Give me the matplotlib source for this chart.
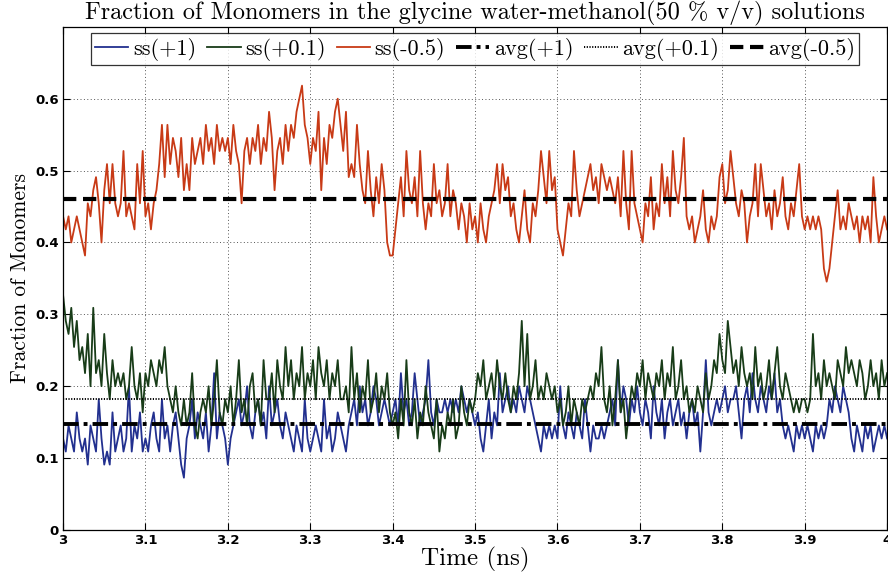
import numpy as np
import matplotlib
matplotlib.use("Agg")
import matplotlib.pyplot as plt

# monomer counts out of 55 molecules (one row = 0.1 ns)
n_molecules = 55

counts_p1 = [
    7, 6, 8, 7, 6, 9, 7, 6, 7, 5, 8, 7, 6, 10, 7, 5, 6, 5, 9, 6, 7, 8, 6, 7, 11, 6, 8, 7, 9, 6,
    7, 6, 8, 9, 7, 6, 10, 7, 8, 6, 8, 9, 7, 5, 4, 7, 8, 10, 7, 9, 8, 7, 9, 6, 8, 12, 7, 9, 8, 7,
    5, 7, 8, 9, 10, 8, 9, 11, 8, 7, 9, 10, 8, 9, 7, 11, 8, 9, 10, 8, 7, 9, 8, 7, 6, 8, 7, 6, 10, 7,
    6, 7, 8, 7, 6, 10, 7, 8, 6, 7, 9, 8, 7, 6, 8, 9, 10, 8, 11, 9, 10, 8, 9, 11, 10, 8, 9, 10, 9, 8,
    9, 10, 8, 12, 9, 10, 8, 9, 12, 10, 8, 9, 10, 13, 9, 8, 10, 9, 9, 10, 9, 10, 9, 10, 9, 11, 10, 9, 10, 9,
    8, 9, 7, 6, 8, 10, 7, 9, 8, 12, 9, 10, 11, 9, 10, 9, 11, 10, 9, 11, 10, 9, 8, 7, 6, 8, 7, 8, 7, 8,
    7, 11, 8, 7, 9, 8, 7, 9, 8, 7, 10, 8, 6, 8, 7, 7, 8, 7, 8, 9, 10, 8, 13, 9, 11, 10, 8, 10, 9, 11,
    9, 8, 10, 9, 7, 11, 9, 8, 10, 7, 9, 10, 8, 9, 10, 8, 9, 7, 9, 10, 8, 9, 6, 9, 13, 9, 8, 9, 10, 9,
    10, 11, 9, 10, 10, 11, 9, 7, 10, 11, 9, 12, 10, 9, 11, 10, 9, 11, 10, 12, 9, 10, 8, 7, 8, 7, 6, 8, 7, 8,
    7, 8, 7, 6, 8, 7, 8, 7, 8, 10, 9, 11, 10, 9, 11, 10, 9, 7, 6, 8, 7, 6, 8, 7, 8, 6, 7, 8, 7, 8,
    7,
]

counts_p01 = [
    18, 16, 15, 17, 14, 16, 13, 14, 12, 15, 11, 17, 12, 13, 11, 15, 12, 10, 13, 11, 12, 11, 12, 10, 11, 14, 11, 10, 12, 9,
    12, 11, 13, 12, 11, 13, 12, 14, 11, 10, 9, 11, 9, 8, 10, 8, 9, 12, 8, 7, 9, 10, 9, 11, 8, 10, 13, 9, 8, 10,
    9, 11, 8, 10, 13, 9, 10, 8, 11, 12, 9, 10, 8, 13, 10, 10, 12, 9, 13, 11, 10, 14, 11, 13, 10, 12, 11, 14, 10, 12,
    11, 13, 10, 14, 12, 11, 13, 10, 12, 11, 13, 10, 10, 11, 9, 14, 10, 12, 9, 11, 10, 13, 9, 10, 12, 9, 11, 10, 12, 9,
    8, 9, 7, 10, 8, 13, 9, 8, 10, 7, 9, 8, 11, 9, 8, 7, 10, 6, 8, 7, 9, 8, 10, 7, 8, 11, 9, 8, 10, 9,
    10, 12, 11, 13, 10, 11, 12, 10, 13, 11, 10, 12, 10, 9, 11, 10, 12, 16, 11, 15, 10, 11, 13, 10, 11, 10, 12, 11, 10, 11,
    9, 10, 8, 9, 11, 8, 10, 9, 8, 10, 9, 10, 11, 10, 12, 11, 14, 10, 9, 11, 8, 10, 13, 9, 10, 7, 9, 11, 10, 12,
    11, 13, 10, 12, 11, 10, 12, 11, 13, 10, 12, 11, 14, 10, 11, 13, 10, 11, 9, 10, 9, 11, 10, 9, 12, 10, 11, 13, 12, 15,
    13, 12, 16, 14, 12, 13, 11, 14, 12, 11, 12, 10, 14, 11, 12, 10, 11, 13, 10, 12, 14, 11, 10, 12, 11, 10, 9, 10, 9, 10,
    10, 9, 10, 15, 11, 12, 10, 13, 11, 12, 11, 10, 13, 12, 11, 14, 12, 13, 12, 11, 13, 12, 10, 11, 13, 11, 12, 10, 13, 11,
    12,
]

counts_m05 = [
    24, 23, 24, 22, 23, 24, 23, 22, 21, 25, 24, 26, 27, 25, 22, 26, 28, 25, 28, 25, 24, 25, 29, 24, 25, 24, 23, 28, 25, 29,
    24, 25, 23, 25, 26, 28, 31, 27, 31, 28, 30, 29, 27, 30, 26, 28, 26, 30, 28, 29, 30, 28, 31, 29, 30, 28, 31, 29, 30, 29,
    30, 28, 31, 29, 28, 25, 29, 30, 28, 30, 29, 31, 28, 30, 29, 32, 30, 26, 29, 30, 28, 31, 29, 31, 30, 32, 33, 34, 31, 30,
    28, 30, 29, 32, 26, 30, 28, 31, 30, 32, 33, 31, 29, 32, 27, 28, 27, 31, 28, 26, 25, 29, 26, 24, 27, 25, 28, 26, 22, 21,
    21, 23, 25, 27, 24, 29, 26, 25, 27, 24, 29, 25, 23, 25, 24, 28, 25, 26, 24, 25, 28, 24, 26, 25, 23, 25, 24, 22, 25, 23,
    24, 22, 25, 23, 22, 24, 25, 26, 28, 25, 28, 26, 27, 24, 25, 23, 22, 24, 26, 23, 22, 25, 24, 26, 29, 27, 25, 29, 26, 27,
    23, 22, 21, 23, 25, 24, 29, 26, 24, 25, 26, 27, 28, 26, 27, 25, 28, 27, 26, 27, 26, 25, 27, 24, 29, 25, 23, 29, 25, 24,
    23, 22, 25, 24, 27, 23, 25, 24, 28, 25, 27, 24, 29, 26, 25, 27, 30, 24, 23, 24, 22, 23, 24, 26, 23, 22, 24, 23, 24, 27,
    28, 25, 26, 29, 27, 25, 24, 26, 25, 22, 24, 25, 28, 24, 28, 26, 24, 25, 23, 26, 24, 25, 27, 24, 23, 25, 24, 26, 28, 24,
    23, 24, 23, 24, 23, 24, 23, 20, 19, 20, 22, 24, 26, 23, 24, 23, 25, 24, 23, 24, 22, 24, 23, 24, 22, 27, 24, 22, 23, 24,
    23,
]

avg_p1 = 0.147
avg_p01 = 0.182
avg_m05 = 0.461

labels = ["ss(+1)", "ss(+0.1)", "ss(-0.5)", "avg(+1)", "avg(+0.1)", "avg(-0.5)"]
title = "Fraction of Monomers in the glycine water-methanol(50 % v/v) solutions"

t_start, t_end = 3.0, 4.0
time = np.linspace(t_start, t_end, len(counts_p1))
frac_p1 = np.array(counts_p1) / n_molecules
frac_p01 = np.array(counts_p01) / n_molecules
frac_m05 = np.array(counts_m05) / n_molecules

serif = ["cmr10", "DejaVu Serif"]

fig = plt.figure(figsize=(8.88, 5.77), dpi=100)
ax = fig.add_axes([0.071, 0.0815, 0.928, 0.872])

ax.plot(time, frac_p1, color="#22308f", lw=1.3, label=labels[0])
ax.plot(time, frac_p01, color="#183c18", lw=1.3, label=labels[1])
ax.plot(time, frac_m05, color="#c83a16", lw=1.3, label=labels[2])
ax.axhline(avg_p1, color="black", lw=2.8, ls=(0, (4, 1.3, 1, 1.3)), label=labels[3])
ax.axhline(avg_p01, color="black", lw=1.4, ls=(0, (0.6, 0.8)), label=labels[4])
ax.axhline(avg_m05, color="black", lw=3.0, ls=(0, (3.2, 1.6)), label=labels[5])

ax.set_xlim(t_start, t_end)
ax.set_ylim(0, 0.7)
ax.set_xticks(np.round(np.arange(3.0, 4.01, 0.1), 1))
ax.set_xticklabels(["3", "3.1", "3.2", "3.3", "3.4", "3.5", "3.6", "3.7", "3.8", "3.9", "4"])
ax.set_yticks([0, 0.1, 0.2, 0.3, 0.4, 0.5, 0.6])
ax.set_yticklabels(["0", "0.1", "0.2", "0.3", "0.4", "0.5", "0.6"])
ax.tick_params(direction="in", top=True, right=True, length=5, width=0.8,
               labelsize=9.5, pad=3)
for lab in ax.get_xticklabels() + ax.get_yticklabels():
    lab.set_fontfamily("DejaVu Sans")
    lab.set_fontweight("bold")
ax.grid(True, ls=(0, (1, 2.5)), color="#555555", lw=0.7)
for sp in ax.spines.values():
    sp.set_linewidth(0.9)

ax.set_title(title, family=serif, fontsize=17.5, pad=5)
ax.set_xlabel("Time (ns)", family=serif, fontsize=18, labelpad=0)
ax.set_ylabel("Fraction of Monomers", family=serif, fontsize=15.5, labelpad=4)

leg = ax.legend(loc="upper center", ncol=6, prop={"family": serif, "size": 16},
                handlelength=1.5, handletextpad=0.2, columnspacing=0.5,
                frameon=True, fancybox=False, edgecolor="black",
                borderpad=0.2, borderaxespad=0.3)
leg.get_frame().set_linewidth(0.9)

fig.savefig("out.png", dpi=100)
